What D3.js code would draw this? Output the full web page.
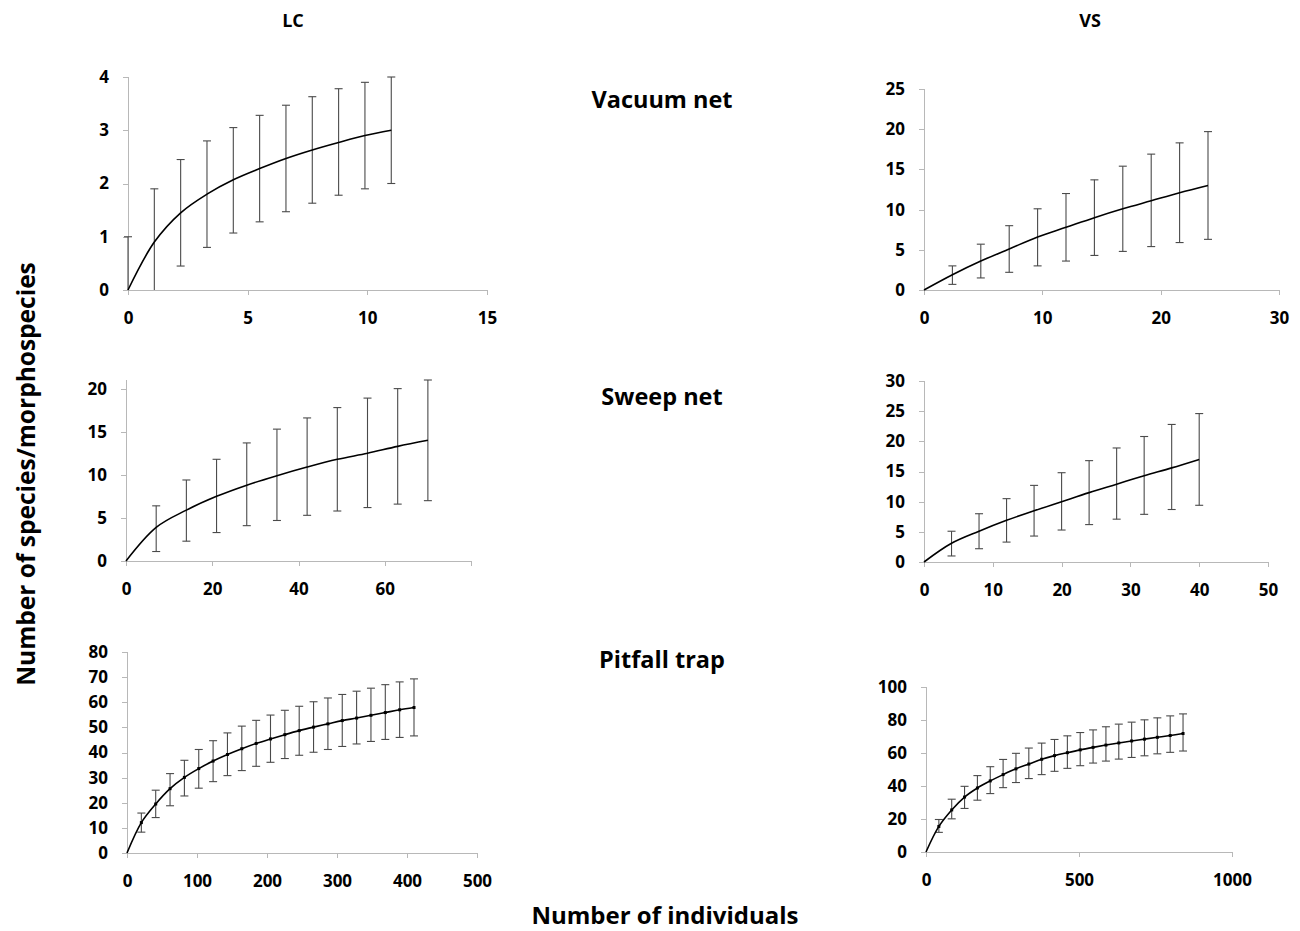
<!DOCTYPE html>
<html>
<head>
<meta charset="utf-8">
<script src="https://cdn.jsdelivr.net/npm/d3@7"></script>
<style>
  html, body { margin: 0; padding: 0; background: #fff; }
  svg text { font-family: "Open Sans", "DejaVu Sans", sans-serif; font-weight: 700; fill: #000; }
  .axis path, .axis line { stroke: #b8b8b8; stroke-width: 1; shape-rendering: crispEdges; }
  .axis text { font-size: 17px; }
</style>
</head>
<body>
<div id="graphic"></div>
<script>
// ---- data (rarefaction means with +/- error) ----

// Vacuum net, LC
const vacLcX    = [0, 1.1, 2.2, 3.3, 4.4, 5.5, 6.6, 7.7, 8.8, 9.9, 11];
const vacLcMean = [0, 0.9, 1.45, 1.8, 2.07, 2.28, 2.47, 2.63, 2.77, 2.9, 3.0];
const vacLcLow  = [-1, -0.1, 0.45, 0.8, 1.07, 1.28, 1.47, 1.63, 1.78, 1.9, 2.0];
const vacLcHigh = [1, 1.9, 2.45, 2.8, 3.05, 3.28, 3.47, 3.63, 3.78, 3.9, 4.0];

// Vacuum net, VS
const vacVsX    = [2.4, 4.8, 7.2, 9.6, 12, 14.4, 16.8, 19.2, 21.6, 24];
const vacVsMean = [1.9, 3.6, 5.1, 6.6, 7.8, 9.0, 10.1, 11.1, 12.1, 13.0];
const vacVsLow  = [0.7, 1.5, 2.2, 3.0, 3.6, 4.3, 4.8, 5.4, 5.9, 6.3];
const vacVsHigh = [3.0, 5.7, 8.0, 10.1, 12.0, 13.7, 15.4, 16.9, 18.3, 19.7];

// Sweep net, LC
const swLcX    = [7, 14, 21, 28, 35, 42, 49, 56, 63, 70];
const swLcMean = [3.9, 5.9, 7.5, 8.8, 9.9, 10.9, 11.8, 12.5, 13.3, 14.0];
const swLcLow  = [1.1, 2.3, 3.3, 4.1, 4.7, 5.3, 5.8, 6.2, 6.6, 7.0];
const swLcHigh = [6.4, 9.4, 11.8, 13.7, 15.3, 16.6, 17.8, 18.9, 20.0, 21.0];

// Sweep net, VS
const swVsX    = [4, 8, 12, 16, 20, 24, 28, 32, 36, 40];
const swVsMean = [3.1, 5.1, 6.9, 8.5, 10.0, 11.5, 12.9, 14.3, 15.6, 17.0];
const swVsLow  = [1.0, 2.2, 3.3, 4.3, 5.3, 6.2, 7.1, 7.9, 8.7, 9.4];
const swVsHigh = [5.1, 8.0, 10.5, 12.7, 14.8, 16.8, 18.9, 20.8, 22.8, 24.6];

// Pitfall trap, LC
const pfLcX    = [20.5, 41, 61.5, 82, 102.5, 123, 143.5, 164, 184.5, 205,
                  225.5, 246, 266.5, 287, 307.5, 328, 348.5, 369, 389.5, 410];
const pfLcMean = [12.1, 19.5, 25.6, 30.1, 33.6, 36.6, 39.2, 41.5, 43.6, 45.4,
                  47.1, 48.7, 50.1, 51.4, 52.7, 53.7, 54.8, 55.9, 57.0, 57.9];
const pfLcLow  = [8.3, 14.1, 18.8, 22.7, 25.8, 28.4, 30.8, 32.8, 34.5, 36.1,
                  37.6, 38.9, 40.1, 41.2, 42.4, 43.4, 44.4, 45.2, 46.0, 46.6];
const pfLcHigh = [15.9, 25.0, 31.6, 36.9, 41.2, 44.7, 47.8, 50.5, 52.8, 54.9,
                  56.8, 58.4, 60.2, 61.7, 63.1, 64.4, 65.6, 67.0, 68.1, 69.3];

// Pitfall trap, VS
const pfVsX    = [42, 84, 126, 168, 210, 252, 294, 336, 378, 420,
                  462, 504, 546, 588, 630, 672, 714, 756, 798, 840];
const pfVsMean = [15.5, 25.5, 33.3, 38.8, 43.1, 46.9, 50.4, 53.3, 56.2, 58.4,
                  60.2, 61.9, 63.4, 64.8, 66.1, 67.3, 68.4, 69.5, 70.6, 71.8];
const pfVsLow  = [11.9, 20.1, 26.4, 31.4, 35.4, 39.0, 42.1, 44.5, 46.9, 48.9,
                  50.7, 52.3, 53.9, 55.1, 56.3, 57.3, 58.3, 59.5, 60.4, 61.2];
const pfVsHigh = [19.7, 32.0, 39.8, 46.3, 51.7, 56.1, 59.8, 63.0, 66.0, 68.2,
                  70.4, 72.4, 74.0, 75.9, 77.5, 78.7, 80.1, 81.3, 82.5, 83.7];

const siteLabels = ['LC', 'VS'];
const methodLabels = ['Vacuum net', 'Sweep net', 'Pitfall trap'];

// ---- layout ----
const width = 1300, height = 931;

const panels = [
  { id: 'vacLc', x: vacLcX, mean: vacLcMean, lo: vacLcLow, hi: vacLcHigh,
    left: 128, right: 487, top: 77, bottom: 290,
    xMax: 15, xTicks: [0, 5, 10, 15], yMax: 4, yTicks: [0, 1, 2, 3, 4], marks: false },
  { id: 'vacVs', x: vacVsX, mean: vacVsMean, lo: vacVsLow, hi: vacVsHigh,
    left: 924, right: 1279, top: 89, bottom: 290,
    xMax: 30, xTicks: [0, 10, 20, 30], yMax: 25, yTicks: [0, 5, 10, 15, 20, 25], marks: false },
  { id: 'swLc', x: swLcX, mean: swLcMean, lo: swLcLow, hi: swLcHigh,
    left: 126, right: 471, top: 380, bottom: 561,
    xMax: 80, xTicks: [0, 20, 40, 60, 80], xHide: [80], yMax: 21, yTicks: [0, 5, 10, 15, 20], marks: false },
  { id: 'swVs', x: swVsX, mean: swVsMean, lo: swVsLow, hi: swVsHigh,
    left: 924, right: 1268, top: 381, bottom: 562,
    xMax: 50, xTicks: [0, 10, 20, 30, 40, 50], yMax: 30, yTicks: [0, 5, 10, 15, 20, 25, 30], marks: false },
  { id: 'pfLc', x: pfLcX, mean: pfLcMean, lo: pfLcLow, hi: pfLcHigh,
    left: 127, right: 477, top: 652, bottom: 853,
    xMax: 500, xTicks: [0, 100, 200, 300, 400, 500], yMax: 80, yTicks: d3.range(0, 81, 10), marks: true },
  { id: 'pfVs', x: pfVsX, mean: pfVsMean, lo: pfVsLow, hi: pfVsHigh,
    left: 926, right: 1232, top: 687, bottom: 852,
    xMax: 1000, xTicks: [0, 500, 1000], yMax: 100, yTicks: [0, 20, 40, 60, 80, 100], marks: true }
];

const svg = d3.select('#graphic').append('svg')
  .attr('width', width)
  .attr('height', height);

panels.forEach(function (p) {
  const x = d3.scaleLinear().domain([0, p.xMax]).range([p.left, p.right]);
  const y = d3.scaleLinear().domain([0, p.yMax]).range([p.bottom, p.top]);
  const g = svg.append('g').attr('class', 'panel ' + p.id);

  g.append('clipPath').attr('id', 'clip-' + p.id)
    .append('rect')
    .attr('x', p.left - 10).attr('y', p.top - 2)
    .attr('width', p.right - p.left + 20).attr('height', p.bottom - p.top + 2);

  //x axis: light grey line with short ticks below
  const xg = g.append('g')
    .attr('class', 'axis')
    .attr('transform', 'translate(0,' + p.bottom + ')')
    .call(d3.axisBottom(x).tickValues(p.xTicks).tickSize(5).tickPadding(17)
      .tickFormat(d => (p.xHide && p.xHide.includes(d)) ? '' : d));

  const yg = g.append('g')
    .attr('class', 'axis')
    .attr('transform', 'translate(' + p.left + ',0)')
    .call(d3.axisLeft(y).tickValues(p.yTicks).tickSize(5).tickPadding(14)
      .tickFormat(d3.format('d')));

  xg.select('.domain').remove();
  yg.select('.domain').remove();
  xg.append('line').attr('x1', p.left).attr('x2', p.right);
  yg.append('line').attr('y1', p.top).attr('y2', p.bottom);

  // data rows, curve starts at the origin
  const rows = p.x.map((v, i) => ({ x: v, m: p.mean[i], lo: p.lo[i], hi: p.hi[i] }));
  const curveRows = rows[0].x === 0 ? rows : [{ x: 0, m: 0 }].concat(rows);

  const eb = g.append('g')
    .attr('clip-path', 'url(#clip-' + p.id + ')')
    .attr('stroke', '#4a4a4a')
    .attr('stroke-width', 1.1);

  eb.selectAll('line.bar').data(rows).join('line')
    .attr('class', 'bar')
    .attr('x1', d => x(d.x)).attr('x2', d => x(d.x))
    .attr('y1', d => y(Math.max(d.lo, 0))).attr('y2', d => y(d.hi));

  eb.selectAll('line.capHi').data(rows).join('line')
    .attr('class', 'capHi')
    .attr('x1', d => x(d.x) - 4).attr('x2', d => x(d.x) + 4)
    .attr('y1', d => y(d.hi)).attr('y2', d => y(d.hi));

  eb.selectAll('line.capLo').data(rows.filter(d => d.lo >= 0)).join('line')
    .attr('class', 'capLo')
    .attr('x1', d => x(d.x) - 4).attr('x2', d => x(d.x) + 4)
    .attr('y1', d => y(d.lo)).attr('y2', d => y(d.lo));

  g.append('path')
    .datum(curveRows)
    .attr('fill', 'none')
    .attr('stroke', '#000')
    .attr('stroke-width', 1.6)
    .attr('d', d3.line().x(d => x(d.x)).y(d => y(d.m)).curve(d3.curveCatmullRom.alpha(0.5)));

  if (p.marks) {
    g.selectAll('rect.mk').data(rows).join('rect')
      .attr('class', 'mk')
      .attr('x', d => x(d.x) - 1.5).attr('y', d => y(d.m) - 1.5)
      .attr('width', 3).attr('height', 3)
      .attr('fill', '#000');
  }
});

// column and row titles
svg.selectAll('text.site').data(siteLabels).join('text')
  .attr('class', 'site')
  .attr('x', (d, i) => [293, 1090][i])
  .attr('y', 27)
  .attr('text-anchor', 'middle')
  .style('font-size', '18px')
  .text(d => d);

svg.selectAll('text.method').data(methodLabels).join('text')
  .attr('class', 'method')
  .attr('x', 662)
  .attr('y', (d, i) => [108, 405, 668][i])
  .attr('text-anchor', 'middle')
  .style('font-size', '23.5px')
  .text(d => d);

svg.append('text')
  .attr('transform', 'translate(35,474) rotate(-90)')
  .attr('text-anchor', 'middle')
  .style('font-size', '24.5px')
  .text('Number of species/morphospecies');

svg.append('text')
  .attr('x', 665)
  .attr('y', 924)
  .attr('text-anchor', 'middle')
  .style('font-size', '24px')
  .text('Number of individuals');
</script>
</body>
</html>
